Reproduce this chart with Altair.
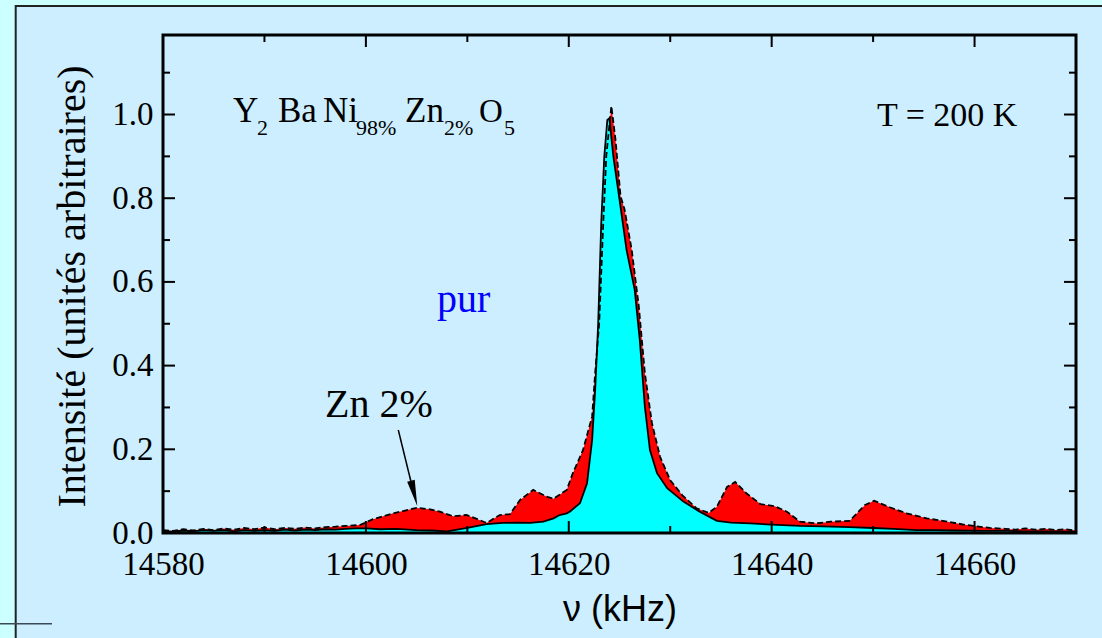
import altair as alt
import pandas as pd

# NMR spectra at T = 200 K: pure compound and 2 % Zn-doped compound
freq_pur = [14580, 14581, 14582, 14583, 14584, 14585, 14586, 14587, 14588, 14589,
            14590, 14591, 14592, 14593, 14594, 14595, 14596, 14597, 14598, 14599,
            14600.1, 14601.4, 14603, 14605, 14606.5, 14608, 14610, 14611.9, 14613.5, 14614.9,
            14616.2, 14617.5, 14618.5, 14619.1, 14619.8, 14620.1, 14621.1, 14621.8, 14622.3, 14622.6,
            14622.9, 14623.2, 14623.5, 14623.8, 14624.0, 14624.4, 14625.1, 14625.7, 14626.5, 14627.0,
            14627.5, 14628.0, 14628.7, 14629.7, 14631.3, 14632.9, 14634.6, 14636.0, 14637.9, 14640.0,
            14642.8, 14645.0, 14647.7, 14650.0, 14652.0, 14654.3, 14656.0, 14658.0, 14660.9, 14663.0,
            14665.0, 14667.0, 14669.4, 14670]
int_pur = [0.004, 0.003, 0.006, 0.004, 0.007, 0.005, 0.007, 0.004, 0.007, 0.005,
           0.007, 0.005, 0.008, 0.006, 0.008, 0.007, 0.009, 0.008, 0.010, 0.011,
           0.011, 0.009, 0.010, 0.007, 0.006, 0.004, 0.012, 0.021, 0.024, 0.025,
           0.024, 0.027, 0.035, 0.043, 0.047, 0.051, 0.071, 0.119, 0.222, 0.342,
           0.501, 0.740, 0.899, 0.987, 0.991, 0.899, 0.780, 0.676, 0.581, 0.461,
           0.302, 0.198, 0.143, 0.107, 0.075, 0.051, 0.029, 0.025, 0.023, 0.020,
           0.017, 0.016, 0.014, 0.012, 0.010, 0.007, 0.007, 0.006, 0.005, 0.005,
           0.004, 0.004, 0.003, 0.003]

freq_zn = [14580, 14581, 14582, 14583, 14584, 14585, 14586, 14587, 14588, 14589,
           14590, 14591, 14592, 14593, 14594, 14595, 14596, 14597, 14598, 14599.4,
           14600.7, 14602.7, 14605.0, 14606.2, 14607.3, 14608.6, 14609.9, 14611.0, 14611.9, 14613.2,
           14614.2, 14615.2, 14616.5, 14617.8, 14618.5, 14619.8, 14620.4, 14621.4, 14622.3, 14622.6,
           14623.0, 14623.4, 14623.7, 14624.2, 14624.6, 14625.1, 14625.5, 14626.2, 14626.9, 14627.5,
           14628.2, 14629.0, 14630.0, 14631.2, 14632.6, 14633.8, 14634.6, 14635.6, 14636.4, 14637.5,
           14638.9, 14640.3, 14641.5, 14642.8, 14644.4, 14645.8, 14647.7, 14649.2, 14650.1, 14651.7,
           14653.3, 14655.3, 14657.3, 14659.2, 14661.5, 14663.0, 14664.0, 14665.0, 14666.0, 14667.0,
           14668.0, 14669.0, 14670.0]
int_zn = [0.007, 0.005, 0.009, 0.006, 0.010, 0.007, 0.011, 0.008, 0.012, 0.009,
          0.013, 0.009, 0.012, 0.010, 0.013, 0.011, 0.014, 0.015, 0.017, 0.019,
          0.033, 0.047, 0.060, 0.057, 0.051, 0.040, 0.043, 0.033, 0.024, 0.043,
          0.045, 0.079, 0.103, 0.087, 0.082, 0.103, 0.143, 0.198, 0.278, 0.382,
          0.502, 0.742, 0.902, 1.020, 0.941, 0.805, 0.773, 0.677, 0.542, 0.382,
          0.262, 0.182, 0.126, 0.090, 0.059, 0.048, 0.063, 0.110, 0.122, 0.095,
          0.069, 0.064, 0.051, 0.027, 0.023, 0.027, 0.029, 0.067, 0.077, 0.061,
          0.047, 0.035, 0.027, 0.019, 0.012, 0.010, 0.008, 0.011, 0.008, 0.010,
          0.007, 0.009, 0.006]

x_major = [14580, 14600, 14620, 14640, 14660]
x_minor = [14590, 14610, 14630, 14650]
y_major = [0.0, 0.2, 0.4, 0.6, 0.8, 1.0]
y_minor = [0.1, 0.3, 0.5, 0.7, 0.9, 1.1]

W, H = 913, 498          # plot area
LEFT, TOP = 163, 35      # plot area origin on the page
SERIF = "Liberation Serif"
SANS = "Liberation Sans"

pur = pd.DataFrame({"freq": freq_pur, "intensity": int_pur})
zn = pd.DataFrame({"freq": freq_zn, "intensity": int_zn})
one = pd.DataFrame({"k": [0]})


def px(x):
    return x - LEFT


def py(y):
    return y - TOP


x_enc = alt.X(
    "freq:Q",
    scale=alt.Scale(domain=[14580, 14670], nice=False, zero=False),
    axis=alt.Axis(values=x_major, format="d", title="ν (kHz)", grid=False, ticks=False,
                  domain=False, zindex=2, labelFont=SERIF, labelFontSize=33,
                  labelColor="black", labelPadding=15, labelFlush=False, labelOverlap=False,
                  titleFont=SANS, titleFontSize=36, titleFontWeight="normal",
                  titleColor="black", titleY=87, titleBaseline="alphabetic"),
)
y_enc = alt.Y(
    "intensity:Q",
    scale=alt.Scale(domain=[0, 1.19], nice=False, zero=True),
    axis=alt.Axis(values=y_major, format=".1f", title="Intensité (unités arbitraires)",
                  grid=False, ticks=False, domain=False, zindex=2, labelFont=SERIF,
                  labelFontSize=33, labelColor="black", labelPadding=10, labelFlush=False,
                  labelOverlap=False, titleFont=SERIF, titleFontSize=40,
                  titleFontWeight="normal", titleColor="black", titleX=72 - LEFT,
                  titleY=H / 2 + 2, titleBaseline="middle", titleAngle=270),
)

# light-blue panel with dark border, and the short rule at lower left
panel = alt.Chart(one).mark_rect(fill="#cceeff", stroke="#222222", strokeWidth=2).encode(
    x=alt.value(px(15.7)), x2=alt.value(px(1140)), y=alt.value(py(6)), y2=alt.value(py(680)))
stray = alt.Chart(one).mark_rule(color="#3b4a55", strokeWidth=1.5).encode(
    x=alt.value(px(-5)), x2=alt.value(px(52)), y=alt.value(py(623.7)))

# spectra
zn_area = alt.Chart(zn).mark_area(color="#ff0000", opacity=1).encode(x=x_enc, y=y_enc)
pur_area = alt.Chart(pur).mark_area(color="#00ffff", opacity=1).encode(x=x_enc, y=y_enc)
pur_line = alt.Chart(pur).mark_line(color="black", strokeWidth=1.8).encode(x=x_enc, y=y_enc)
zn_line = alt.Chart(zn).mark_line(color="black", strokeWidth=1.8, strokeDash=[6, 3]).encode(
    x=x_enc, y=y_enc)

# inward ticks on all four sides
xmaj = pd.DataFrame({"freq": x_major})
xmin = pd.DataFrame({"freq": x_minor})
ymaj = pd.DataFrame({"intensity": y_major})
ymin = pd.DataFrame({"intensity": y_minor})


def xticks(df, length):
    bottom = alt.Chart(df).mark_rule(color="black", strokeWidth=2).encode(
        x=x_enc, y=alt.value(H), y2=alt.value(H - length))
    top = alt.Chart(df).mark_rule(color="black", strokeWidth=2).encode(
        x=x_enc, y=alt.value(0), y2=alt.value(length))
    return [bottom, top]


def yticks(df, length):
    left = alt.Chart(df).mark_rule(color="black", strokeWidth=2).encode(
        y=y_enc, x=alt.value(0), x2=alt.value(length))
    right = alt.Chart(df).mark_rule(color="black", strokeWidth=2).encode(
        y=y_enc, x=alt.value(W), x2=alt.value(W - length))
    return [left, right]


ticks = xticks(xmaj, 12) + xticks(xmin, 7) + yticks(ymaj, 12) + yticks(ymin, 7)

frame = alt.Chart(one).mark_rect(fillOpacity=0, stroke="black", strokeWidth=3).encode(
    x=alt.value(0), x2=alt.value(W), y=alt.value(0), y2=alt.value(H))


def text_at(s, x, y, size, align="left", color="black", font=SERIF):
    return alt.Chart(one).mark_text(text=s, align=align, baseline="alphabetic",
                                    fontSize=size, font=font, color=color).encode(
        x=alt.value(px(x)), y=alt.value(py(y)))


# compound formula Y2 Ba Ni98% Zn2% O5
formula = [
    text_at("Y", 233, 121.7, 35),
    text_at("2", 257, 135, 22),
    text_at("Ba", 278, 121.7, 35),
    text_at("Ni", 323, 121.7, 35),
    text_at("98%", 356, 135, 22),
    text_at("Zn", 405, 121.7, 35),
    text_at("2%", 444, 135, 22),
    text_at("O", 479, 121.7, 33),
    text_at("5", 504, 135, 22),
]
labels = [
    text_at("T = 200 K", 877, 126, 34),
    text_at("pur", 463.7, 311.7, 40, align="center", color="#0000ff"),
    text_at("Zn 2%", 325, 417, 40),
]

# arrow pointing at the Zn satellite
arrow_line = alt.Chart(one).mark_rule(color="black", strokeWidth=1.5).encode(
    x=alt.value(px(398.3)), y=alt.value(py(430)), x2=alt.value(px(414)), y2=alt.value(py(494)))
arrow_head = alt.Chart(one).mark_point(shape="M0,1L-0.3,-1L0.3,-1Z", filled=True, color="black",
                                       opacity=1, size=676, angle=346, strokeWidth=0).encode(
    x=alt.value(px(414.1)), y=alt.value(py(493.4)))

chart = alt.layer(
    panel, stray, zn_area, pur_area, pur_line, zn_line,
    *ticks, frame, *formula, *labels, arrow_line, arrow_head,
).properties(
    width=W, height=H, background="#ccffff",
    padding={"left": LEFT, "top": TOP, "right": 1102 - LEFT - W, "bottom": 638 - TOP - H},
    autosize=alt.AutoSizeParams(type="none"),
).configure_view(strokeWidth=0)

chart.save("out.html", embed_options={"renderer": "svg", "actions": False})
